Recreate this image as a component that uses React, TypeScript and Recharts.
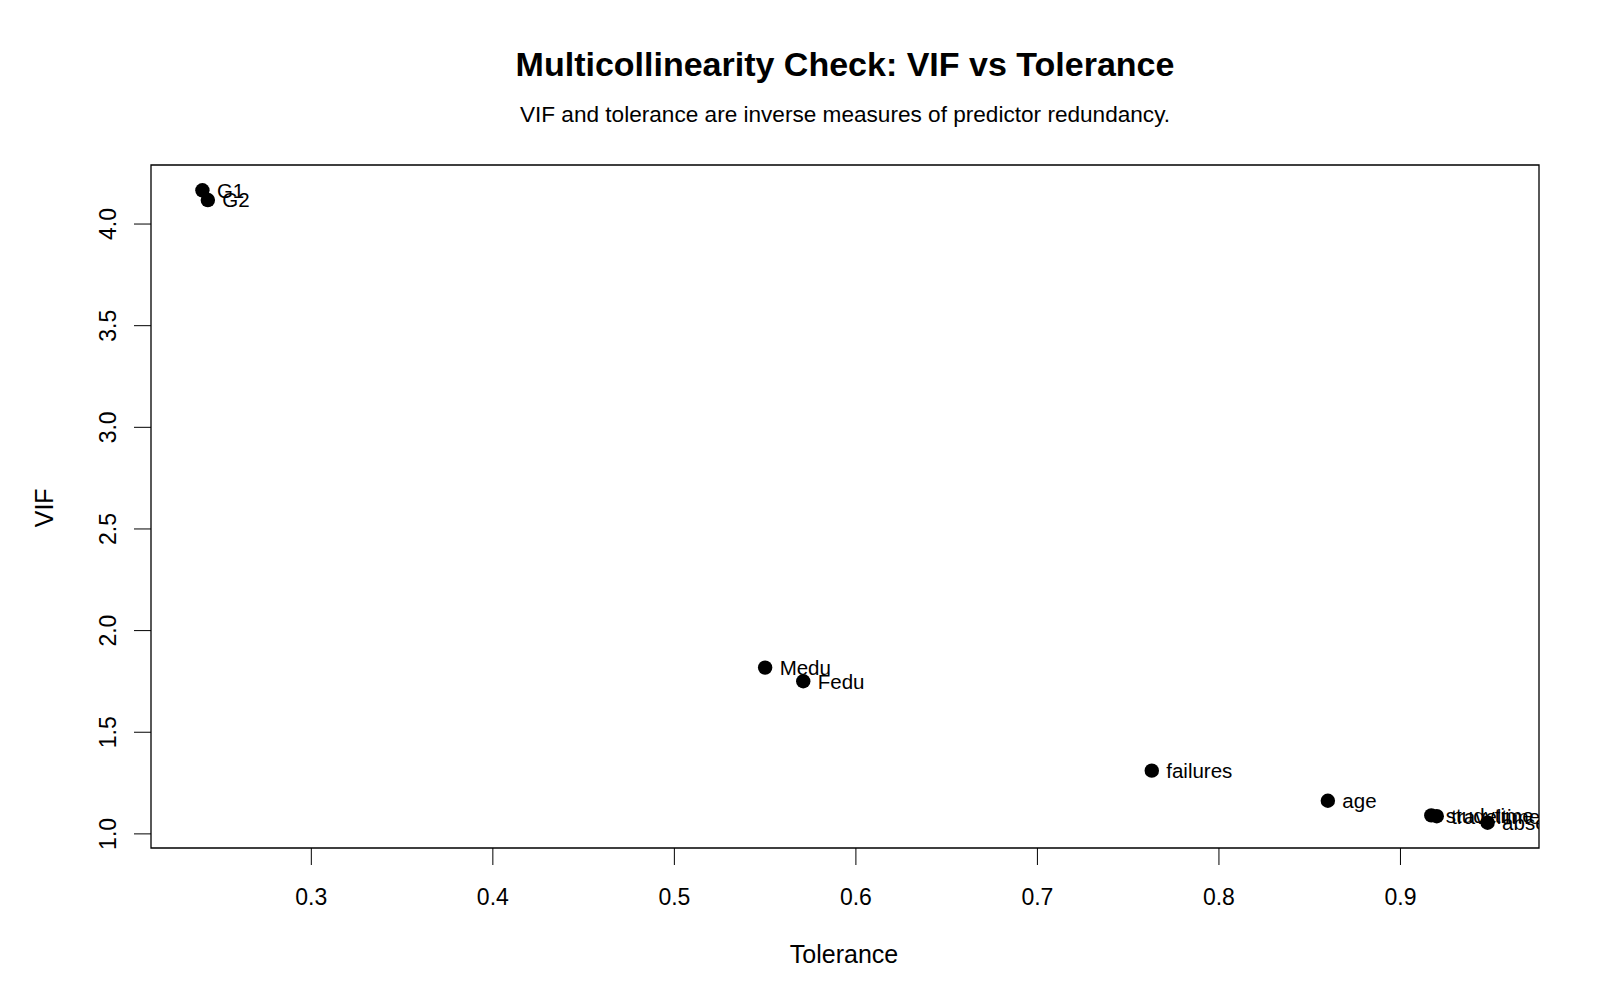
import React from "react";
import {
  ScatterChart,
  Scatter,
  XAxis,
  YAxis,
  ReferenceArea,
} from "recharts";

// Predictors with their variance inflation factor and tolerance (1 / VIF)
const predictors = ["G1", "G2", "Medu", "Fedu", "failures", "age", "studytime", "traveltime", "absences"];
const vifValues = [4.166, 4.118, 1.818, 1.751, 1.311, 1.163, 1.091, 1.087, 1.055];
const toleranceValues = [0.24, 0.243, 0.55, 0.571, 0.763, 0.86, 0.917, 0.92, 0.948];

const xTicks = [0.3, 0.4, 0.5, 0.6, 0.7, 0.8, 0.9];
const yTicks = [1.0, 1.5, 2.0, 2.5, 3.0, 3.5, 4.0];

const FONT = "'Liberation Sans', Arial, Helvetica, sans-serif";
const BASE_FS = 23;
const SUB_FS = 22.6;
const AXIS_TITLE_FS = 25;
const LABEL_FS = 20.5;
const TITLE_FS = 34;

const W = 1600;
const H = 1000;
const Y_AXIS_W = 60;
const X_AXIS_H = 60;
const MARGIN = { top: 165, right: 61, bottom: 92, left: 91 };
const TICK = 17;

// base-graphics style padding: 4% of the data range on each side
function paddedRange(values: number[]): [number, number] {
  const lo = Math.min(...values);
  const hi = Math.max(...values);
  const pad = (hi - lo) * 0.04;
  return [lo - pad, hi + pad];
}

const xDomain = paddedRange(toleranceValues);
const yDomain = paddedRange(vifValues);

const data = predictors.map((name, i) => ({
  name,
  tolerance: toleranceValues[i],
  vif: vifValues[i],
}));

// filled dot with the predictor name to its right, vertically centred
function DotWithName(props: any) {
  const { cx, cy, payload } = props;
  return (
    <g>
      <circle cx={cx} cy={cy} r={7.2} fill="#000" />
      <text
        x={cx + 14.5}
        y={cy + LABEL_FS * 0.358}
        fontSize={LABEL_FS}
        fontFamily={FONT}
        fill="#000"
      >
        {payload.name}
      </text>
    </g>
  );
}

function XTick(props: any) {
  const { x, y, payload } = props;
  return (
    <text
      x={x}
      y={y + 40}
      textAnchor="middle"
      fontSize={BASE_FS}
      fontFamily={FONT}
      fill="#000"
    >
      {Number(payload.value).toFixed(1)}
    </text>
  );
}

function YTick(props: any) {
  const { x, y, payload } = props;
  const bx = x - 18.3;
  return (
    <text
      x={bx}
      y={y}
      transform={`rotate(-90, ${bx}, ${y})`}
      textAnchor="middle"
      fontSize={BASE_FS}
      fontFamily={FONT}
      fill="#000"
    >
      {Number(payload.value).toFixed(1)}
    </text>
  );
}

export default function App() {
  const plotLeft = MARGIN.left + Y_AXIS_W;
  const plotRight = W - MARGIN.right;
  const plotCenter = (plotLeft + plotRight) / 2;

  return (
    <div
      style={{
        position: "absolute",
        left: 0,
        top: 0,
        width: W,
        height: H,
        background: "#fff",
      }}
    >
      <ScatterChart width={W} height={H} margin={MARGIN}>
        <XAxis
          type="number"
          dataKey="tolerance"
          domain={xDomain}
          allowDataOverflow
          ticks={xTicks}
          height={X_AXIS_H}
          axisLine={false}
          tickLine={{ stroke: "#000", strokeWidth: 1 }}
          tickSize={TICK}
          tickMargin={0}
          tick={<XTick />}
          interval={0}
        />
        <YAxis
          type="number"
          dataKey="vif"
          domain={yDomain}
          allowDataOverflow
          ticks={yTicks}
          width={Y_AXIS_W}
          axisLine={false}
          tickLine={{ stroke: "#000", strokeWidth: 1 }}
          tickSize={TICK}
          tickMargin={0}
          tick={<YTick />}
          interval={0}
        />
        <ReferenceArea
          x1={xDomain[0]}
          x2={xDomain[1]}
          y1={yDomain[0]}
          y2={yDomain[1]}
          fill="none"
          fillOpacity={0}
          stroke="#000"
          strokeWidth={1.3}
          strokeOpacity={1}
        />
        <Scatter data={data} shape={<DotWithName />} isAnimationActive={false} />
      </ScatterChart>

      {/* titles and axis names */}
      <svg
        width={W}
        height={H}
        style={{ position: "absolute", left: 0, top: 0, pointerEvents: "none" }}
      >
        <text
          x={plotCenter}
          y={75.5}
          textAnchor="middle"
          fontSize={TITLE_FS}
          fontWeight="bold"
          fontFamily={FONT}
          fill="#000"
        >
          Multicollinearity Check: VIF vs Tolerance
        </text>
        <text
          x={plotCenter}
          y={121.5}
          textAnchor="middle"
          fontSize={SUB_FS}
          fontFamily={FONT}
          fill="#000"
        >
          VIF and tolerance are inverse measures of predictor redundancy.
        </text>
        <text
          x={plotCenter - 1}
          y={963.3}
          textAnchor="middle"
          fontSize={AXIS_TITLE_FS}
          fontFamily={FONT}
          fill="#000"
        >
          Tolerance
        </text>
        <text
          x={53.3}
          y={507.8}
          transform="rotate(-90, 53.3, 507.8)"
          textAnchor="middle"
          fontSize={AXIS_TITLE_FS}
          fontFamily={FONT}
          fill="#000"
        >
          VIF
        </text>
      </svg>
    </div>
  );
}
